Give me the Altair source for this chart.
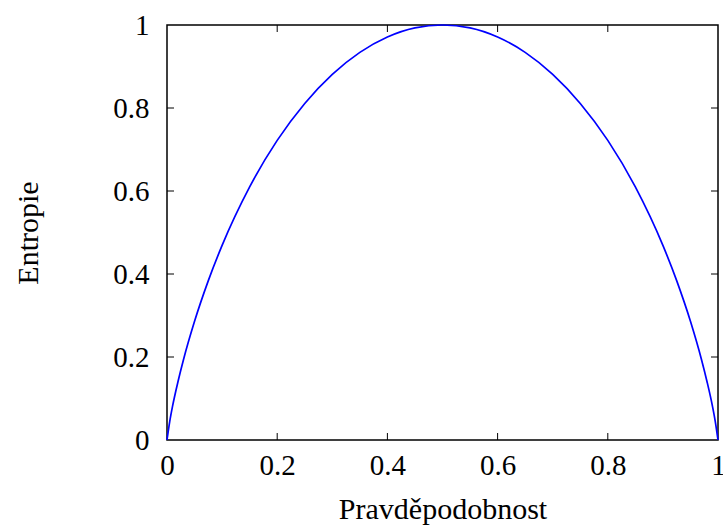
import altair as alt
import pandas as pd

# values
p_vals = [0.0, 0.005, 0.01, 0.02, 0.03, 0.05, 0.075, 0.1, 0.15, 0.2, 0.25, 0.3, 0.35, 0.4, 0.45, 0.5,
          0.55, 0.6, 0.65, 0.7, 0.75, 0.8, 0.85, 0.9, 0.925, 0.95, 0.97, 0.98, 0.99, 0.995, 1.0]
h_vals = [0.0, 0.045, 0.081, 0.141, 0.194, 0.286, 0.384, 0.469, 0.610, 0.722, 0.811, 0.881, 0.934, 0.971, 0.993, 1.0,
          0.993, 0.971, 0.934, 0.881, 0.811, 0.722, 0.610, 0.469, 0.384, 0.286, 0.194, 0.141, 0.081, 0.045, 0.0]
tick_vals = [0.2, 0.4, 0.6, 0.8]
axis_vals = [0, 0.2, 0.4, 0.6, 0.8, 1]

W, H = 551, 415
FONT = "Liberation Serif"
FS = 29
TFS = 30
TL = 7

df = pd.DataFrame({"p": p_vals, "h": h_vals})
tdf = pd.DataFrame({"t": tick_vals})

xs = alt.Scale(domain=[0, 1], nice=False, zero=False)
ys = alt.Scale(domain=[0, 1], nice=False, zero=False)

curve = alt.Chart(df).mark_line(color="#0000ff", strokeWidth=1.7, interpolate="monotone").encode(
    x=alt.X("p:Q", scale=xs, axis=alt.Axis(
        values=axis_vals, format="~g", title="Pravděpodobnost", domain=False, ticks=False, grid=False,
        labelFont=FONT, labelFontSize=FS, labelColor="black", labelPadding=11, labelFlush=False,
        titleFont=FONT, titleFontSize=TFS, titleFontWeight="normal", titleColor="black",
        titleY=78, titleBaseline="alphabetic")),
    y=alt.Y("h:Q", scale=ys, axis=alt.Axis(
        values=axis_vals, format="~g", title="Entropie", domain=False, ticks=False, grid=False,
        labelFont=FONT, labelFontSize=FS, labelColor="black", labelPadding=18, labelFlush=False,
        titleFont=FONT, titleFontSize=TFS, titleFontWeight="normal", titleColor="black",
        titleX=-130, titleY=H / 2, titleAngle=-90, titleAlign="center", titleBaseline="alphabetic")),
)

tick_style = dict(color="black", strokeWidth=1)
bottom = alt.Chart(tdf).mark_rule(**tick_style).encode(x=alt.X("t:Q", scale=xs), y=alt.value(H), y2=alt.value(H - TL))
top = alt.Chart(tdf).mark_rule(**tick_style).encode(x=alt.X("t:Q", scale=xs), y=alt.value(0), y2=alt.value(TL))
left = alt.Chart(tdf).mark_rule(**tick_style).encode(y=alt.Y("t:Q", scale=ys), x=alt.value(0), x2=alt.value(TL))
right = alt.Chart(tdf).mark_rule(**tick_style).encode(y=alt.Y("t:Q", scale=ys), x=alt.value(W), x2=alt.value(W - TL))

chart = alt.layer(bottom, top, left, right, curve).properties(
    width=W, height=H,
    background="white",
    autosize=alt.AutoSizeParams(type="none"),
    padding={"left": 167, "top": 25, "right": 5, "bottom": 88},
).configure_view(stroke="black", strokeWidth=1.5)

chart.save("out.html", embed_options={"renderer": "svg", "actions": False})
